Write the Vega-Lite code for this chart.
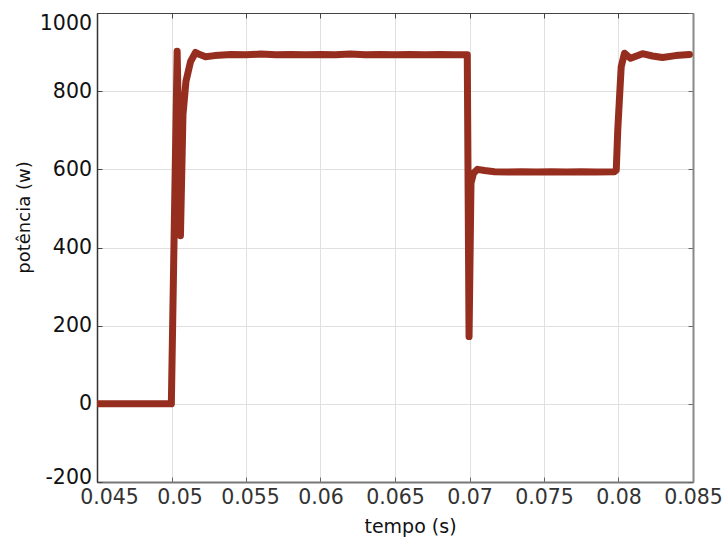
{
  "$schema": "https://vega.github.io/schema/vega-lite/v6.json",
  "width": 596,
  "height": 469,
  "autosize": {"type": "none"},
  "padding": {"left": 97, "top": 13, "right": 34, "bottom": 56},
  "background": "white",
  "config": {
    "view": {"stroke": null},
    "font": "DejaVu Sans",
    "axis": {
      "labelFont": "DejaVu Sans",
      "titleFont": "DejaVu Sans",
      "labelFontSize": 20.5,
      "titleFontSize": 18,
      "titleFontWeight": "normal",
      "labelColor": "#1a1a1a",
      "titleColor": "#111",
      "domainColor": "#444",
      "domainWidth": 1.3,
      "tickColor": "#444",
      "tickSize": -5,
      "gridColor": "#e0e0e0",
      "gridWidth": 1
    }
  },
  "data": {
    "values": [
      {"t": 0.045, "p": 0},
      {"t": 0.0470, "p": 0},
      {"t": 0.04999, "p": 0},
      {"t": 0.05038, "p": 902},
      {"t": 0.0506, "p": 430},
      {"t": 0.05077, "p": 740},
      {"t": 0.05097, "p": 825},
      {"t": 0.05128, "p": 876},
      {"t": 0.05161, "p": 899},
      {"t": 0.05195, "p": 893},
      {"t": 0.05228, "p": 888},
      {"t": 0.05289, "p": 891},
      {"t": 0.0540, "p": 894},
      {"t": 0.0550, "p": 893},
      {"t": 0.0560, "p": 895},
      {"t": 0.0570, "p": 893},
      {"t": 0.0580, "p": 894},
      {"t": 0.0590, "p": 893},
      {"t": 0.0600, "p": 894},
      {"t": 0.0610, "p": 893},
      {"t": 0.0620, "p": 895},
      {"t": 0.0630, "p": 893},
      {"t": 0.0640, "p": 894},
      {"t": 0.0650, "p": 893},
      {"t": 0.0660, "p": 894},
      {"t": 0.0670, "p": 893},
      {"t": 0.0680, "p": 894},
      {"t": 0.0690, "p": 893},
      {"t": 0.06985, "p": 893},
      {"t": 0.06997, "p": 172},
      {"t": 0.0701, "p": 565},
      {"t": 0.07027, "p": 590},
      {"t": 0.07054, "p": 600},
      {"t": 0.07101, "p": 597},
      {"t": 0.07168, "p": 594},
      {"t": 0.0725, "p": 593},
      {"t": 0.0735, "p": 594},
      {"t": 0.0745, "p": 593},
      {"t": 0.0755, "p": 594},
      {"t": 0.0765, "p": 593},
      {"t": 0.0775, "p": 594},
      {"t": 0.0785, "p": 593},
      {"t": 0.07973, "p": 594},
      {"t": 0.07985, "p": 598},
      {"t": 0.07995, "p": 700},
      {"t": 0.08007, "p": 785},
      {"t": 0.08018, "p": 862},
      {"t": 0.0804, "p": 897},
      {"t": 0.08081, "p": 884},
      {"t": 0.08161, "p": 896},
      {"t": 0.08228, "p": 890},
      {"t": 0.08295, "p": 886},
      {"t": 0.08382, "p": 891},
      {"t": 0.08476, "p": 894}
    ]
  },
  "layer": [
    {
      "mark": {"type": "line", "color": "#962e1f", "strokeWidth": 7, "strokeCap": "round", "strokeJoin": "round", "clip": true},
      "encoding": {
        "x": {
          "field": "t", "type": "quantitative",
          "scale": {"domain": [0.045, 0.085], "nice": false, "zero": false},
          "axis": {
            "orient": "bottom",
            "title": "tempo (s)",
            "titleFontSize": 19,
            "titleX": 313,
            "titleY": 50,
            "titleAlign": "center",
            "titleBaseline": "alphabetic",
            "titleAnchor": null,
            "values": [0.045, 0.05, 0.055, 0.06, 0.065, 0.07, 0.075, 0.08, 0.085],
            "labelExpr": "'' + datum.value",
            "labelColor": "#333",
            "labelPadding": 10.8,
            "labelOffset": {
              "condition": [
                {"test": "datum.value == 0.045", "value": 12},
                {"test": "datum.value == 0.05", "value": 8},
                {"test": "datum.value == 0.055", "value": 4}
              ],
              "value": 0
            },
            "labelFlush": false,
            "labelOverlap": false,
            "domainColor": "#777",
            "domainWidth": 2,
            "tickColor": "#666"
          }
        },
        "y": {
          "field": "p", "type": "quantitative",
          "scale": {"domain": [-200, 1000], "nice": false, "zero": false},
          "axis": {
            "orient": "left",
            "title": "potência (w)",
            "titleX": -73,
            "titleY": 204,
            "titleAngle": -90,
            "titleAlign": "center",
            "titleBaseline": "middle",
            "titleAnchor": null,
            "values": [-200, 0, 200, 400, 600, 800, 1000],
            "labelExpr": "'' + datum.value",
            "labelColor": "#111",
            "labelPadding": 10.5,
            "labelBaseline": {
              "condition": [
                {"test": "datum.value == -200", "value": "alphabetic"},
                {"test": "datum.value == 1000", "value": "top"}
              ],
              "value": "middle"
            },
            "labelOffset": {
              "condition": [
                {"test": "datum.value == -200", "value": 1.5}
              ],
              "value": 0
            },
            "labelFlush": false,
            "labelOverlap": false,
            "domainColor": "#333",
            "domainWidth": 1.5
          }
        }
      }
    },
    {
      "mark": {"type": "line", "strokeOpacity": 0},
      "encoding": {
        "x": {
          "field": "t", "type": "quantitative",
          "axis": {"orient": "top", "title": null, "labels": false, "grid": false,
                   "domainColor": "#444", "domainWidth": 1.2,
                   "values": [0.045, 0.05, 0.055, 0.06, 0.065, 0.07, 0.075, 0.08, 0.085]}
        },
        "y": {
          "field": "p", "type": "quantitative",
          "axis": {"orient": "right", "title": null, "labels": false, "grid": false,
                   "domainColor": "#888", "domainWidth": 2, "tickColor": "#666",
                   "values": [-200, 0, 200, 400, 600, 800, 1000]}
        }
      }
    }
  ],
  "resolve": {"axis": {"x": "independent", "y": "independent"}}
}
